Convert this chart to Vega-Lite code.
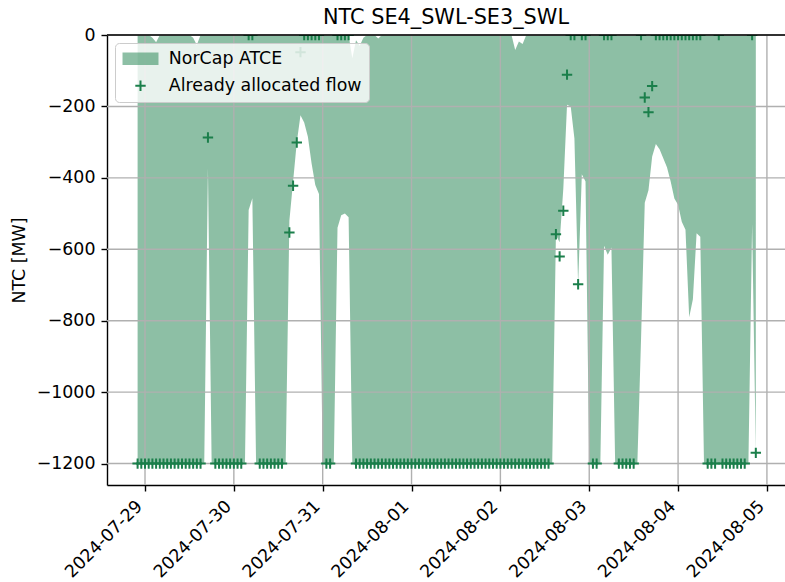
{
"$schema": "https://vega.github.io/schema/vega-lite/v6.json",
"width": 678, "height": 450,
"autosize": {"type": "none"},
"padding": {"left": 107, "top": 35, "right": 0, "bottom": 97},
"background": "white",
"config": {"view": {"stroke": null}, "font": "DejaVu Sans"},
"title": {"text": "NTC SE4_SWL-SE3_SWL", "fontSize": 20.8, "font": "DejaVu Sans", "fontWeight": "normal", "color": "black", "offset": -3, "anchor": "middle", "frame": "group"},
"datasets": {
"main": [
{"t":"2024-07-28T22:00:00Z","lo":-1200,"hi":0,"af":-1200},
{"t":"2024-07-28T23:00:00Z","lo":-1200,"hi":0,"af":-1200},
{"t":"2024-07-29T00:00:00Z","lo":-1200,"hi":0,"af":-1200},
{"t":"2024-07-29T01:00:00Z","lo":-1200,"hi":0,"af":-1200},
{"t":"2024-07-29T02:00:00Z","lo":-1200,"hi":-8,"af":-1200},
{"t":"2024-07-29T03:00:00Z","lo":-1200,"hi":-20,"af":-1200},
{"t":"2024-07-29T04:00:00Z","lo":-1200,"hi":0,"af":-1200},
{"t":"2024-07-29T05:00:00Z","lo":-1200,"hi":0,"af":-1200},
{"t":"2024-07-29T06:00:00Z","lo":-1200,"hi":0,"af":-1200},
{"t":"2024-07-29T07:00:00Z","lo":-1200,"hi":0,"af":-1200},
{"t":"2024-07-29T08:00:00Z","lo":-1200,"hi":0,"af":-1200},
{"t":"2024-07-29T09:00:00Z","lo":-1200,"hi":0,"af":-1200},
{"t":"2024-07-29T10:00:00Z","lo":-1200,"hi":0,"af":-1200},
{"t":"2024-07-29T11:00:00Z","lo":-1200,"hi":0,"af":-1200},
{"t":"2024-07-29T12:00:00Z","lo":-1200,"hi":0,"af":-1200},
{"t":"2024-07-29T13:00:00Z","lo":-1200,"hi":-8,"af":-1200},
{"t":"2024-07-29T14:00:00Z","lo":-1200,"hi":-28,"af":-1200},
{"t":"2024-07-29T15:00:00Z","lo":-1200,"hi":0,"af":-1200},
{"t":"2024-07-29T16:00:00Z","lo":-1200,"hi":0,"af":null},
{"t":"2024-07-29T17:00:00Z","lo":-373,"hi":0,"af":-287},
{"t":"2024-07-29T18:00:00Z","lo":-1200,"hi":0,"af":null},
{"t":"2024-07-29T19:00:00Z","lo":-1200,"hi":0,"af":-1200},
{"t":"2024-07-29T20:00:00Z","lo":-1200,"hi":0,"af":-1200},
{"t":"2024-07-29T21:00:00Z","lo":-1200,"hi":0,"af":-1200},
{"t":"2024-07-29T22:00:00Z","lo":-1200,"hi":0,"af":-1200},
{"t":"2024-07-29T23:00:00Z","lo":-1200,"hi":0,"af":-1200},
{"t":"2024-07-30T00:00:00Z","lo":-1200,"hi":0,"af":-1200},
{"t":"2024-07-30T01:00:00Z","lo":-1200,"hi":0,"af":-1200},
{"t":"2024-07-30T02:00:00Z","lo":-1200,"hi":0,"af":-1200},
{"t":"2024-07-30T03:00:00Z","lo":-1200,"hi":0,"af":null},
{"t":"2024-07-30T04:00:00Z","lo":-490,"hi":0,"af":0},
{"t":"2024-07-30T05:00:00Z","lo":-457,"hi":0,"af":0},
{"t":"2024-07-30T06:00:00Z","lo":-1200,"hi":0,"af":null},
{"t":"2024-07-30T07:00:00Z","lo":-1200,"hi":0,"af":-1200},
{"t":"2024-07-30T08:00:00Z","lo":-1200,"hi":0,"af":-1200},
{"t":"2024-07-30T09:00:00Z","lo":-1200,"hi":0,"af":-1200},
{"t":"2024-07-30T10:00:00Z","lo":-1200,"hi":0,"af":-1200},
{"t":"2024-07-30T11:00:00Z","lo":-1200,"hi":0,"af":-1200},
{"t":"2024-07-30T12:00:00Z","lo":-1200,"hi":0,"af":-1200},
{"t":"2024-07-30T13:00:00Z","lo":-1200,"hi":0,"af":-1200},
{"t":"2024-07-30T14:00:00Z","lo":-1200,"hi":0,"af":null},
{"t":"2024-07-30T15:00:00Z","lo":-520,"hi":0,"af":-553},
{"t":"2024-07-30T16:00:00Z","lo":-410,"hi":0,"af":-422},
{"t":"2024-07-30T17:00:00Z","lo":-300,"hi":0,"af":-301},
{"t":"2024-07-30T18:00:00Z","lo":-225,"hi":0,"af":-48},
{"t":"2024-07-30T19:00:00Z","lo":-245,"hi":0,"af":0},
{"t":"2024-07-30T20:00:00Z","lo":-285,"hi":0,"af":0},
{"t":"2024-07-30T21:00:00Z","lo":-360,"hi":0,"af":0},
{"t":"2024-07-30T22:00:00Z","lo":-420,"hi":0,"af":0},
{"t":"2024-07-30T23:00:00Z","lo":-445,"hi":0,"af":0},
{"t":"2024-07-31T00:00:00Z","lo":-1200,"hi":0,"af":null},
{"t":"2024-07-31T01:00:00Z","lo":-1200,"hi":0,"af":-1200},
{"t":"2024-07-31T02:00:00Z","lo":-1200,"hi":0,"af":-1200},
{"t":"2024-07-31T03:00:00Z","lo":-1200,"hi":0,"af":null},
{"t":"2024-07-31T04:00:00Z","lo":-540,"hi":0,"af":0},
{"t":"2024-07-31T05:00:00Z","lo":-505,"hi":0,"af":0},
{"t":"2024-07-31T06:00:00Z","lo":-500,"hi":0,"af":0},
{"t":"2024-07-31T07:00:00Z","lo":-510,"hi":0,"af":0},
{"t":"2024-07-31T08:00:00Z","lo":-1200,"hi":-65,"af":null},
{"t":"2024-07-31T09:00:00Z","lo":-1200,"hi":-15,"af":-1200},
{"t":"2024-07-31T10:00:00Z","lo":-1200,"hi":-30,"af":-1200},
{"t":"2024-07-31T11:00:00Z","lo":-1200,"hi":-8,"af":-1200},
{"t":"2024-07-31T12:00:00Z","lo":-1200,"hi":0,"af":-1200},
{"t":"2024-07-31T13:00:00Z","lo":-1200,"hi":0,"af":-1200},
{"t":"2024-07-31T14:00:00Z","lo":-1200,"hi":0,"af":-1200},
{"t":"2024-07-31T15:00:00Z","lo":-1200,"hi":-10,"af":-1200},
{"t":"2024-07-31T16:00:00Z","lo":-1200,"hi":0,"af":-1200},
{"t":"2024-07-31T17:00:00Z","lo":-1200,"hi":0,"af":-1200},
{"t":"2024-07-31T18:00:00Z","lo":-1200,"hi":0,"af":-1200},
{"t":"2024-07-31T19:00:00Z","lo":-1200,"hi":0,"af":-1200},
{"t":"2024-07-31T20:00:00Z","lo":-1200,"hi":0,"af":-1200},
{"t":"2024-07-31T21:00:00Z","lo":-1200,"hi":0,"af":-1200},
{"t":"2024-07-31T22:00:00Z","lo":-1200,"hi":0,"af":-1200},
{"t":"2024-07-31T23:00:00Z","lo":-1200,"hi":0,"af":-1200},
{"t":"2024-08-01T00:00:00Z","lo":-1200,"hi":0,"af":-1200},
{"t":"2024-08-01T01:00:00Z","lo":-1200,"hi":0,"af":-1200},
{"t":"2024-08-01T02:00:00Z","lo":-1200,"hi":0,"af":-1200},
{"t":"2024-08-01T03:00:00Z","lo":-1200,"hi":0,"af":-1200},
{"t":"2024-08-01T04:00:00Z","lo":-1200,"hi":0,"af":-1200},
{"t":"2024-08-01T05:00:00Z","lo":-1200,"hi":0,"af":-1200},
{"t":"2024-08-01T06:00:00Z","lo":-1200,"hi":0,"af":-1200},
{"t":"2024-08-01T07:00:00Z","lo":-1200,"hi":0,"af":-1200},
{"t":"2024-08-01T08:00:00Z","lo":-1200,"hi":0,"af":-1200},
{"t":"2024-08-01T09:00:00Z","lo":-1200,"hi":0,"af":-1200},
{"t":"2024-08-01T10:00:00Z","lo":-1200,"hi":0,"af":-1200},
{"t":"2024-08-01T11:00:00Z","lo":-1200,"hi":0,"af":-1200},
{"t":"2024-08-01T12:00:00Z","lo":-1200,"hi":0,"af":-1200},
{"t":"2024-08-01T13:00:00Z","lo":-1200,"hi":0,"af":-1200},
{"t":"2024-08-01T14:00:00Z","lo":-1200,"hi":0,"af":-1200},
{"t":"2024-08-01T15:00:00Z","lo":-1200,"hi":0,"af":-1200},
{"t":"2024-08-01T16:00:00Z","lo":-1200,"hi":0,"af":-1200},
{"t":"2024-08-01T17:00:00Z","lo":-1200,"hi":0,"af":-1200},
{"t":"2024-08-01T18:00:00Z","lo":-1200,"hi":0,"af":-1200},
{"t":"2024-08-01T19:00:00Z","lo":-1200,"hi":0,"af":-1200},
{"t":"2024-08-01T20:00:00Z","lo":-1200,"hi":0,"af":-1200},
{"t":"2024-08-01T21:00:00Z","lo":-1200,"hi":0,"af":-1200},
{"t":"2024-08-01T22:00:00Z","lo":-1200,"hi":0,"af":-1200},
{"t":"2024-08-01T23:00:00Z","lo":-1200,"hi":0,"af":-1200},
{"t":"2024-08-02T00:00:00Z","lo":-1200,"hi":0,"af":-1200},
{"t":"2024-08-02T01:00:00Z","lo":-1200,"hi":0,"af":-1200},
{"t":"2024-08-02T02:00:00Z","lo":-1200,"hi":0,"af":-1200},
{"t":"2024-08-02T03:00:00Z","lo":-1200,"hi":0,"af":-1200},
{"t":"2024-08-02T04:00:00Z","lo":-1200,"hi":-42,"af":-1200},
{"t":"2024-08-02T05:00:00Z","lo":-1200,"hi":-18,"af":-1200},
{"t":"2024-08-02T06:00:00Z","lo":-1200,"hi":-25,"af":-1200},
{"t":"2024-08-02T07:00:00Z","lo":-1200,"hi":0,"af":-1200},
{"t":"2024-08-02T08:00:00Z","lo":-1200,"hi":0,"af":-1200},
{"t":"2024-08-02T09:00:00Z","lo":-1200,"hi":0,"af":-1200},
{"t":"2024-08-02T10:00:00Z","lo":-1200,"hi":0,"af":-1200},
{"t":"2024-08-02T11:00:00Z","lo":-1200,"hi":0,"af":-1200},
{"t":"2024-08-02T12:00:00Z","lo":-1200,"hi":0,"af":-1200},
{"t":"2024-08-02T13:00:00Z","lo":-1200,"hi":0,"af":-1200},
{"t":"2024-08-02T14:00:00Z","lo":-1200,"hi":0,"af":null},
{"t":"2024-08-02T15:00:00Z","lo":-560,"hi":0,"af":-558},
{"t":"2024-08-02T16:00:00Z","lo":-580,"hi":0,"af":-620},
{"t":"2024-08-02T17:00:00Z","lo":-430,"hi":0,"af":-492},
{"t":"2024-08-02T18:00:00Z","lo":-195,"hi":0,"af":-111},
{"t":"2024-08-02T19:00:00Z","lo":-200,"hi":0,"af":0},
{"t":"2024-08-02T20:00:00Z","lo":-290,"hi":0,"af":0},
{"t":"2024-08-02T21:00:00Z","lo":-700,"hi":0,"af":-698},
{"t":"2024-08-02T22:00:00Z","lo":-390,"hi":0,"af":0},
{"t":"2024-08-02T23:00:00Z","lo":-410,"hi":0,"af":0},
{"t":"2024-08-03T00:00:00Z","lo":-1200,"hi":0,"af":null},
{"t":"2024-08-03T01:00:00Z","lo":-1200,"hi":0,"af":-1200},
{"t":"2024-08-03T02:00:00Z","lo":-1200,"hi":0,"af":-1200},
{"t":"2024-08-03T03:00:00Z","lo":-1200,"hi":0,"af":null},
{"t":"2024-08-03T04:00:00Z","lo":-590,"hi":0,"af":0},
{"t":"2024-08-03T05:00:00Z","lo":-615,"hi":0,"af":0},
{"t":"2024-08-03T06:00:00Z","lo":-595,"hi":0,"af":0},
{"t":"2024-08-03T07:00:00Z","lo":-1200,"hi":0,"af":null},
{"t":"2024-08-03T08:00:00Z","lo":-1200,"hi":0,"af":-1200},
{"t":"2024-08-03T09:00:00Z","lo":-1200,"hi":0,"af":-1200},
{"t":"2024-08-03T10:00:00Z","lo":-1200,"hi":0,"af":-1200},
{"t":"2024-08-03T11:00:00Z","lo":-1200,"hi":0,"af":-1200},
{"t":"2024-08-03T12:00:00Z","lo":-1200,"hi":0,"af":-1200},
{"t":"2024-08-03T13:00:00Z","lo":-1200,"hi":0,"af":null},
{"t":"2024-08-03T14:00:00Z","lo":-850,"hi":0,"af":0},
{"t":"2024-08-03T15:00:00Z","lo":-470,"hi":0,"af":-175},
{"t":"2024-08-03T16:00:00Z","lo":-435,"hi":0,"af":-216},
{"t":"2024-08-03T17:00:00Z","lo":-340,"hi":0,"af":-143},
{"t":"2024-08-03T18:00:00Z","lo":-305,"hi":0,"af":0},
{"t":"2024-08-03T19:00:00Z","lo":-320,"hi":0,"af":0},
{"t":"2024-08-03T20:00:00Z","lo":-345,"hi":0,"af":0},
{"t":"2024-08-03T21:00:00Z","lo":-370,"hi":0,"af":0},
{"t":"2024-08-03T22:00:00Z","lo":-410,"hi":0,"af":0},
{"t":"2024-08-03T23:00:00Z","lo":-458,"hi":0,"af":0},
{"t":"2024-08-04T00:00:00Z","lo":-475,"hi":0,"af":0},
{"t":"2024-08-04T01:00:00Z","lo":-523,"hi":0,"af":0},
{"t":"2024-08-04T02:00:00Z","lo":-545,"hi":0,"af":0},
{"t":"2024-08-04T03:00:00Z","lo":-790,"hi":0,"af":0},
{"t":"2024-08-04T04:00:00Z","lo":-740,"hi":0,"af":0},
{"t":"2024-08-04T05:00:00Z","lo":-555,"hi":0,"af":0},
{"t":"2024-08-04T06:00:00Z","lo":-565,"hi":0,"af":0},
{"t":"2024-08-04T07:00:00Z","lo":-1200,"hi":0,"af":null},
{"t":"2024-08-04T08:00:00Z","lo":-1200,"hi":0,"af":-1200},
{"t":"2024-08-04T09:00:00Z","lo":-1200,"hi":0,"af":-1200},
{"t":"2024-08-04T10:00:00Z","lo":-1200,"hi":0,"af":-1200},
{"t":"2024-08-04T11:00:00Z","lo":-1200,"hi":0,"af":0},
{"t":"2024-08-04T12:00:00Z","lo":-1200,"hi":0,"af":-1200},
{"t":"2024-08-04T13:00:00Z","lo":-1200,"hi":0,"af":-1200},
{"t":"2024-08-04T14:00:00Z","lo":-1200,"hi":0,"af":-1200},
{"t":"2024-08-04T15:00:00Z","lo":-1200,"hi":0,"af":-1200},
{"t":"2024-08-04T16:00:00Z","lo":-1200,"hi":0,"af":-1200},
{"t":"2024-08-04T17:00:00Z","lo":-1200,"hi":0,"af":-1200},
{"t":"2024-08-04T18:00:00Z","lo":-1200,"hi":0,"af":-1200},
{"t":"2024-08-04T19:00:00Z","lo":-1200,"hi":0,"af":null},
{"t":"2024-08-04T20:00:00Z","lo":-530,"hi":0,"af":0},
{"t":"2024-08-04T21:00:00Z","lo":-1170,"hi":0,"af":-1170}
],
"xgrid": [
{"t":"2024-07-29T00:00:00Z"},{"t":"2024-07-30T00:00:00Z"},{"t":"2024-07-31T00:00:00Z"},{"t":"2024-08-01T00:00:00Z"},
{"t":"2024-08-02T00:00:00Z"},{"t":"2024-08-03T00:00:00Z"},{"t":"2024-08-04T00:00:00Z"},{"t":"2024-08-05T00:00:00Z"}
],
"ygrid": [{"v":-1200},{"v":-1000},{"v":-800},{"v":-600},{"v":-400},{"v":-200},{"v":0}],
"one": [{}]
},
"layer": [
{
"data": {"name": "main"},
"mark": {"type": "area", "color": "#1b7f4b", "opacity": 0.5, "clip": true},
"encoding": {
"x": {"field": "t", "type": "temporal",
"scale": {"type": "utc", "domain": ["2024-07-28T13:44:00Z", "2024-08-05T04:53:00Z"]},
"axis": {"values": [
{"year":2024,"month":7,"date":29,"utc":true},{"year":2024,"month":7,"date":30,"utc":true},
{"year":2024,"month":7,"date":31,"utc":true},{"year":2024,"month":8,"date":1,"utc":true},
{"year":2024,"month":8,"date":2,"utc":true},{"year":2024,"month":8,"date":3,"utc":true},
{"year":2024,"month":8,"date":4,"utc":true},{"year":2024,"month":8,"date":5,"utc":true}],
"format": "%Y-%m-%d", "labelAngle": -45, "labelAlign": "right", "labelBaseline": "top",
"labelFontSize": 17.4, "labelFont": "DejaVu Sans", "labelColor": "black",
"tickColor": "black", "tickSize": 6, "tickWidth": 1.4, "domainColor": "black", "domainWidth": 1.4,
"grid": false, "title": null, "labelPadding": 6, "labelOffset": -12,
"labelOverlap": false, "labelFlush": false, "labelBound": false}},
"y": {"field": "lo", "type": "quantitative",
"scale": {"domain": [-1260, 0], "nice": false, "zero": false},
"axis": {"values": [-1200, -1000, -800, -600, -400, -200, 0], "format": "d",
"labelFontSize": 17.4, "labelFont": "DejaVu Sans", "labelColor": "black",
"tickColor": "black", "tickSize": 6, "tickWidth": 1.4, "domainColor": "black", "domainWidth": 1.4,
"grid": false, "title": "NTC [MW]", "titleFontSize": 17.4, "titleFont": "DejaVu Sans",
"titleFontWeight": "normal", "titleColor": "black", "titlePadding": 8, "labelPadding": 6}},
"y2": {"field": "hi"}
}
},
{
"data": {"name": "xgrid"},
"mark": {"type": "rule", "color": "#b0b0b0", "strokeWidth": 1.4},
"encoding": {"x": {"field": "t", "type": "temporal", "scale": {"type": "utc"}}}
},
{
"data": {"name": "ygrid"},
"mark": {"type": "rule", "color": "#b0b0b0", "strokeWidth": 1.4},
"encoding": {"y": {"field": "v", "type": "quantitative"}}
},
{
"data": {"name": "main"},
"mark": {"type": "point", "filled": false, "opacity": 1, "strokeWidth": 2, "size": 108, "clip": true},
"encoding": {
"x": {"field": "t", "type": "temporal", "scale": {"type": "utc"}},
"y": {"field": "af", "type": "quantitative"},
"stroke": {"datum": "Already allocated flow", "type": "nominal",
"scale": {"domain": ["NorCap ATCE", "Already allocated flow"], "range": ["rgba(27,127,75,0.5)", "#1b7f4b"]},
"legend": {"orient": "top-left", "title": null, "offset": 8, "padding": 7,
"fillColor": "rgba(255,255,255,0.8)", "strokeColor": "#cccccc", "cornerRadius": 4,
"labelFontSize": 17.4, "labelFont": "DejaVu Sans", "labelColor": "black", "labelLimit": 400,
"symbolSize": 108, "symbolStrokeWidth": 2, "symbolOffset": 9.8, "labelOffset": 19.6, "rowPadding": 8}},
"shape": {"datum": "Already allocated flow", "type": "nominal",
"scale": {"domain": ["NorCap ATCE", "Already allocated flow"],
"range": ["M-3.46,-1H3.46M-3.46,-0.7H3.46M-3.46,-0.4H3.46M-3.46,-0.1H3.46M-3.46,0.2H3.46M-3.46,0.5H3.46M-3.46,0.8H3.46M-3.46,1H3.46", "M-1,0H1M0,-1V1"]},
"legend": {"orient": "top-left", "title": null}}
}
},
{
"data": {"name": "one"},
"mark": {"type": "rule", "color": "black", "strokeWidth": 1.4},
"encoding": {"y": {"datum": 0}}
}
]
}
